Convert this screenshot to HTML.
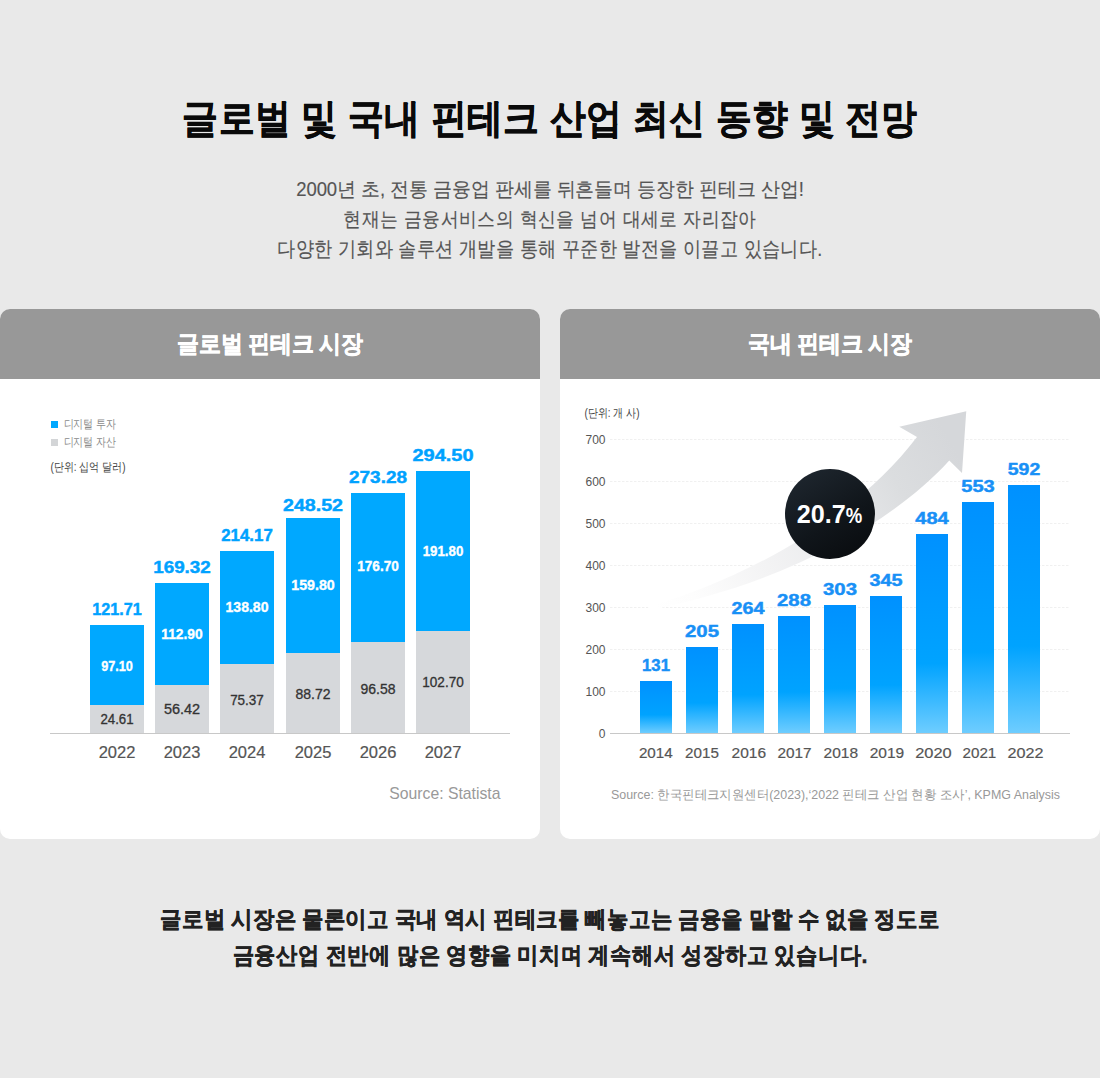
<!DOCTYPE html>
<html lang="ko">
<head>
<meta charset="utf-8">
<title>글로벌 및 국내 핀테크 산업 최신 동향 및 전망</title>
<style>
*{margin:0;padding:0;box-sizing:border-box}
html,body{width:1100px;height:1078px;overflow:hidden}
body{background:#e9e9e9;font-family:"Liberation Sans",sans-serif;position:relative;color:#000}
.ln{position:absolute;left:0;width:1100px;text-align:center;white-space:nowrap;display:block;transform-origin:50% 0;line-height:1}
h1.ln{font-weight:bold;color:#0a0a0a;-webkit-text-stroke:0.5px #0a0a0a}
p.ln{color:#555;-webkit-text-stroke:0.15px #555}
p.bt{color:#222;font-weight:bold;-webkit-text-stroke:0.4px #222}
.card{position:absolute;top:309px;width:540px;height:530px;background:#fff;border-radius:10px;overflow:hidden}
.card .hd{position:absolute;left:0;top:0;width:540px;height:70px;background:#989898}
.card h2{position:absolute;left:0;width:540px;text-align:center;white-space:nowrap;color:#fff;font-weight:bold;line-height:1;transform-origin:50% 0;-webkit-text-stroke:0.5px #fff}
#c1{left:0}
#c2{left:560px}
svg#charts{position:absolute;left:0;top:0;width:1100px;height:1078px}
svg text{font-family:"Liberation Sans",sans-serif}
#t0{top:97.8px;font-size:36.0px;letter-spacing:0.28px;transform:scaleY(1.1176)}
#s1{top:180.44px;font-size:18.5px;letter-spacing:-0.086px;transform:scaleY(1.0588)}
#s2{top:208.75px;font-size:18.0px;letter-spacing:0.4px;transform:scaleY(1.125)}
#s3{top:238.69px;font-size:18.0px;letter-spacing:0.4px;transform:scaleY(1.1562)}
#h1{top:23.5px;font-size:21.5px;letter-spacing:-0.222px;transform:scaleY(1.0952)}
#h2{top:23.5px;font-size:21.5px;letter-spacing:-0.25px;transform:scaleY(1.0952)}
#b1{top:909.4px;font-size:21.5px;letter-spacing:-0.283px;transform:scaleY(1.0762)}
#b2{top:945.0px;font-size:21.5px;letter-spacing:-0.206px;transform:scaleY(1.0857)}
</style>
</head>
<body>

<h1 class="ln" id="t0">글로벌 및 국내 핀테크 산업 최신 동향 및 전망</h1>

<p class="ln" id="s1">2000년 초, 전통 금융업 판세를 뒤흔들며 등장한 핀테크 산업!</p>
<p class="ln" id="s2">현재는 금융서비스의 혁신을 넘어 대세로 자리잡아</p>
<p class="ln" id="s3">다양한 기회와 솔루션 개발을 통해 꾸준한 발전을 이끌고 있습니다.</p>

<div class="card" id="c1"><div class="hd"></div><h2 id="h1">글로벌 핀테크 시장</h2></div>
<div class="card" id="c2"><div class="hd"></div><h2 id="h2">국내 핀테크 시장</h2></div>

<svg id="charts" viewBox="0 0 1100 1078">
<defs>
<linearGradient id="gb" x1="0" y1="0" x2="0" y2="1"><stop offset="0" stop-color="#0091ff"/><stop offset="0.65" stop-color="#00a3ff"/><stop offset="1" stop-color="#6ecdff"/></linearGradient>
<linearGradient id="ga" gradientUnits="userSpaceOnUse" x1="655" y1="610" x2="950" y2="440"><stop offset="0" stop-color="#ffffff"/><stop offset="0.12" stop-color="#fdfdfd"/><stop offset="0.35" stop-color="#f3f3f4"/><stop offset="0.6" stop-color="#e8e9eb"/><stop offset="0.8" stop-color="#dbdddf"/><stop offset="1" stop-color="#d5d7da"/></linearGradient>
<linearGradient id="gc" x1="0.15" y1="0.1" x2="0.7" y2="1"><stop offset="0" stop-color="#1d252d"/><stop offset="0.6" stop-color="#10151a"/><stop offset="1" stop-color="#0a0d10"/></linearGradient>
</defs>
<g id="left">
<rect x="51" y="421" width="7" height="7" fill="#00a8ff"/>
<rect x="51" y="439" width="7" height="7" fill="#d3d5d7"/>
<text x="63.5" y="428.2" font-size="11.5" fill="#8a8a8a" text-anchor="start" textLength="52.5" lengthAdjust="spacingAndGlyphs">디지털 투자</text>
<text x="63.5" y="445.6" font-size="11.5" fill="#8a8a8a" text-anchor="start" textLength="52.5" lengthAdjust="spacingAndGlyphs">디지털 자산</text>
<text x="50.5" y="471" font-size="12" fill="#444" text-anchor="start" textLength="75" lengthAdjust="spacingAndGlyphs">(단위: 십억 달러)</text>
<rect x="90" y="625" width="54" height="80" fill="#00a8ff"/>
<rect x="90" y="705" width="54" height="28" fill="#d6d8db"/>
<text x="117" y="615" font-size="17" fill="#00a2ff" text-anchor="middle" font-weight="bold" textLength="49.5" lengthAdjust="spacingAndGlyphs" stroke="#00a2ff" stroke-width="0.45">121.71</text>
<text x="117" y="671.25" font-size="14" fill="#fff" text-anchor="middle" font-weight="bold" textLength="31.75" lengthAdjust="spacingAndGlyphs" stroke="#fff" stroke-width="0.35">97.10</text>
<text x="117" y="724.25" font-size="14" fill="#333" text-anchor="middle" textLength="33.25" lengthAdjust="spacingAndGlyphs" stroke="#333" stroke-width="0.3">24.61</text>
<text x="117" y="758.3" font-size="16.5" fill="#555" text-anchor="middle" stroke="#555" stroke-width="0.2">2022</text>
<rect x="155" y="583" width="54" height="102" fill="#00a8ff"/>
<rect x="155" y="685" width="54" height="48" fill="#d6d8db"/>
<text x="182" y="573" font-size="17" fill="#00a2ff" text-anchor="middle" font-weight="bold" textLength="57.5" lengthAdjust="spacingAndGlyphs" stroke="#00a2ff" stroke-width="0.45">169.32</text>
<text x="182" y="639.25" font-size="14" fill="#fff" text-anchor="middle" font-weight="bold" textLength="41.5" lengthAdjust="spacingAndGlyphs" stroke="#fff" stroke-width="0.35">112.90</text>
<text x="182" y="714.25" font-size="14" fill="#333" text-anchor="middle" textLength="36.25" lengthAdjust="spacingAndGlyphs" stroke="#333" stroke-width="0.3">56.42</text>
<text x="182" y="758.3" font-size="16.5" fill="#555" text-anchor="middle" stroke="#555" stroke-width="0.2">2023</text>
<rect x="220" y="551" width="54" height="113" fill="#00a8ff"/>
<rect x="220" y="664" width="54" height="69" fill="#d6d8db"/>
<text x="247" y="541" font-size="17" fill="#00a2ff" text-anchor="middle" font-weight="bold" textLength="51.5" lengthAdjust="spacingAndGlyphs" stroke="#00a2ff" stroke-width="0.45">214.17</text>
<text x="247" y="612.25" font-size="14" fill="#fff" text-anchor="middle" font-weight="bold" textLength="43" lengthAdjust="spacingAndGlyphs" stroke="#fff" stroke-width="0.35">138.80</text>
<text x="247" y="705" font-size="14" fill="#333" text-anchor="middle" textLength="33.75" lengthAdjust="spacingAndGlyphs" stroke="#333" stroke-width="0.3">75.37</text>
<text x="247" y="758.3" font-size="16.5" fill="#555" text-anchor="middle" stroke="#555" stroke-width="0.2">2024</text>
<rect x="286" y="518" width="54" height="135" fill="#00a8ff"/>
<rect x="286" y="653" width="54" height="80" fill="#d6d8db"/>
<text x="313" y="511" font-size="17" fill="#00a2ff" text-anchor="middle" font-weight="bold" textLength="60" lengthAdjust="spacingAndGlyphs" stroke="#00a2ff" stroke-width="0.45">248.52</text>
<text x="313" y="590.25" font-size="14" fill="#fff" text-anchor="middle" font-weight="bold" textLength="43.5" lengthAdjust="spacingAndGlyphs" stroke="#fff" stroke-width="0.35">159.80</text>
<text x="313" y="698.5" font-size="14" fill="#333" text-anchor="middle" textLength="35" lengthAdjust="spacingAndGlyphs" stroke="#333" stroke-width="0.3">88.72</text>
<text x="313" y="758.3" font-size="16.5" fill="#555" text-anchor="middle" stroke="#555" stroke-width="0.2">2025</text>
<rect x="351" y="493" width="54" height="149" fill="#00a8ff"/>
<rect x="351" y="642" width="54" height="91" fill="#d6d8db"/>
<text x="378" y="483" font-size="17" fill="#00a2ff" text-anchor="middle" font-weight="bold" textLength="58" lengthAdjust="spacingAndGlyphs" stroke="#00a2ff" stroke-width="0.45">273.28</text>
<text x="378" y="571.25" font-size="14" fill="#fff" text-anchor="middle" font-weight="bold" textLength="41.5" lengthAdjust="spacingAndGlyphs" stroke="#fff" stroke-width="0.35">176.70</text>
<text x="378" y="693.5" font-size="14" fill="#333" text-anchor="middle" textLength="35" lengthAdjust="spacingAndGlyphs" stroke="#333" stroke-width="0.3">96.58</text>
<text x="378" y="758.3" font-size="16.5" fill="#555" text-anchor="middle" stroke="#555" stroke-width="0.2">2026</text>
<rect x="416" y="471" width="54" height="160" fill="#00a8ff"/>
<rect x="416" y="631" width="54" height="102" fill="#d6d8db"/>
<text x="443" y="461" font-size="17" fill="#00a2ff" text-anchor="middle" font-weight="bold" textLength="61" lengthAdjust="spacingAndGlyphs" stroke="#00a2ff" stroke-width="0.45">294.50</text>
<text x="443" y="556" font-size="14" fill="#fff" text-anchor="middle" font-weight="bold" textLength="40.5" lengthAdjust="spacingAndGlyphs" stroke="#fff" stroke-width="0.35">191.80</text>
<text x="443" y="687" font-size="14" fill="#333" text-anchor="middle" textLength="41.5" lengthAdjust="spacingAndGlyphs" stroke="#333" stroke-width="0.3">102.70</text>
<text x="443" y="758.3" font-size="16.5" fill="#555" text-anchor="middle" stroke="#555" stroke-width="0.2">2027</text>
<rect x="50" y="733" width="460" height="1" fill="#c8c8c8"/>
<text x="500.5" y="799" font-size="15.75" fill="#999" text-anchor="end">Source: Statista</text>
</g>
<g id="right">
<text x="584.5" y="417.3" font-size="12" fill="#444" text-anchor="start" textLength="55" lengthAdjust="spacingAndGlyphs">(단위: 개 사)</text>
<line x1="610" y1="439.5" x2="1070" y2="439.5" stroke="#f0f0f0" stroke-width="1" stroke-dasharray="2.5 1.5"/>
<text x="605.5" y="444.3" font-size="12" fill="#555" text-anchor="end">700</text>
<line x1="610" y1="481.5" x2="1070" y2="481.5" stroke="#f0f0f0" stroke-width="1" stroke-dasharray="2.5 1.5"/>
<text x="605.5" y="486.3" font-size="12" fill="#555" text-anchor="end">600</text>
<line x1="610" y1="523.5" x2="1070" y2="523.5" stroke="#f0f0f0" stroke-width="1" stroke-dasharray="2.5 1.5"/>
<text x="605.5" y="528.3" font-size="12" fill="#555" text-anchor="end">500</text>
<line x1="610" y1="565.5" x2="1070" y2="565.5" stroke="#f0f0f0" stroke-width="1" stroke-dasharray="2.5 1.5"/>
<text x="605.5" y="570.3" font-size="12" fill="#555" text-anchor="end">400</text>
<line x1="610" y1="607.5" x2="1070" y2="607.5" stroke="#f0f0f0" stroke-width="1" stroke-dasharray="2.5 1.5"/>
<text x="605.5" y="612.3" font-size="12" fill="#555" text-anchor="end">300</text>
<line x1="610" y1="649.5" x2="1070" y2="649.5" stroke="#f0f0f0" stroke-width="1" stroke-dasharray="2.5 1.5"/>
<text x="605.5" y="654.3" font-size="12" fill="#555" text-anchor="end">200</text>
<line x1="610" y1="691.5" x2="1070" y2="691.5" stroke="#f0f0f0" stroke-width="1" stroke-dasharray="2.5 1.5"/>
<text x="605.5" y="696.3" font-size="12" fill="#555" text-anchor="end">100</text>
<text x="605.5" y="738.3" font-size="12" fill="#555" text-anchor="end">0</text>
<path d="M648,607 C735,582 850,525 917,437 L899.25,426.75 L966.25,411.25 L962,473 L949.25,460.5 C890,526 780,584 650,610 Z" fill="url(#ga)"/>
<rect x="640" y="681" width="32" height="52" fill="url(#gb)"/>
<text x="656" y="671" font-size="17" fill="#1890f6" text-anchor="middle" font-weight="bold" textLength="28" lengthAdjust="spacingAndGlyphs" stroke="#1890f6" stroke-width="0.45">131</text>
<text x="655.8" y="757.5" font-size="15.5" fill="#555" text-anchor="middle" textLength="33.8" lengthAdjust="spacingAndGlyphs" stroke="#555" stroke-width="0.2">2014</text>
<rect x="686" y="647" width="32" height="86" fill="url(#gb)"/>
<text x="702" y="637" font-size="17" fill="#1890f6" text-anchor="middle" font-weight="bold" textLength="34" lengthAdjust="spacingAndGlyphs" stroke="#1890f6" stroke-width="0.45">205</text>
<text x="702" y="757.5" font-size="15.5" fill="#555" text-anchor="middle" textLength="33.8" lengthAdjust="spacingAndGlyphs" stroke="#555" stroke-width="0.2">2015</text>
<rect x="732" y="624" width="32" height="109" fill="url(#gb)"/>
<text x="748" y="614" font-size="17" fill="#1890f6" text-anchor="middle" font-weight="bold" textLength="33" lengthAdjust="spacingAndGlyphs" stroke="#1890f6" stroke-width="0.45">264</text>
<text x="748.8" y="757.5" font-size="15.5" fill="#555" text-anchor="middle" textLength="34.5" lengthAdjust="spacingAndGlyphs" stroke="#555" stroke-width="0.2">2016</text>
<rect x="778" y="616" width="32" height="117" fill="url(#gb)"/>
<text x="794" y="606" font-size="17" fill="#1890f6" text-anchor="middle" font-weight="bold" textLength="34" lengthAdjust="spacingAndGlyphs" stroke="#1890f6" stroke-width="0.45">288</text>
<text x="794.5" y="757.5" font-size="15.5" fill="#555" text-anchor="middle" textLength="34.2" lengthAdjust="spacingAndGlyphs" stroke="#555" stroke-width="0.2">2017</text>
<rect x="824" y="605" width="32" height="128" fill="url(#gb)"/>
<text x="840" y="595" font-size="17" fill="#1890f6" text-anchor="middle" font-weight="bold" textLength="34" lengthAdjust="spacingAndGlyphs" stroke="#1890f6" stroke-width="0.45">303</text>
<text x="840.8" y="757.5" font-size="15.5" fill="#555" text-anchor="middle" textLength="34.5" lengthAdjust="spacingAndGlyphs" stroke="#555" stroke-width="0.2">2018</text>
<rect x="870" y="596" width="32" height="137" fill="url(#gb)"/>
<text x="886" y="586" font-size="17" fill="#1890f6" text-anchor="middle" font-weight="bold" textLength="33" lengthAdjust="spacingAndGlyphs" stroke="#1890f6" stroke-width="0.45">345</text>
<text x="887" y="757.5" font-size="15.5" fill="#555" text-anchor="middle" textLength="34.5" lengthAdjust="spacingAndGlyphs" stroke="#555" stroke-width="0.2">2019</text>
<rect x="916" y="534" width="32" height="199" fill="url(#gb)"/>
<text x="932" y="524" font-size="17" fill="#1890f6" text-anchor="middle" font-weight="bold" textLength="33.5" lengthAdjust="spacingAndGlyphs" stroke="#1890f6" stroke-width="0.45">484</text>
<text x="933.4" y="757.5" font-size="15.5" fill="#555" text-anchor="middle" textLength="36.5" lengthAdjust="spacingAndGlyphs" stroke="#555" stroke-width="0.2">2020</text>
<rect x="962" y="502" width="32" height="231" fill="url(#gb)"/>
<text x="978" y="492" font-size="17" fill="#1890f6" text-anchor="middle" font-weight="bold" textLength="33.5" lengthAdjust="spacingAndGlyphs" stroke="#1890f6" stroke-width="0.45">553</text>
<text x="979.4" y="757.5" font-size="15.5" fill="#555" text-anchor="middle" textLength="33.8" lengthAdjust="spacingAndGlyphs" stroke="#555" stroke-width="0.2">2021</text>
<rect x="1008" y="485" width="32" height="248" fill="url(#gb)"/>
<text x="1024" y="475" font-size="17" fill="#1890f6" text-anchor="middle" font-weight="bold" textLength="32.5" lengthAdjust="spacingAndGlyphs" stroke="#1890f6" stroke-width="0.45">592</text>
<text x="1025.6" y="757.5" font-size="15.5" fill="#555" text-anchor="middle" textLength="36" lengthAdjust="spacingAndGlyphs" stroke="#555" stroke-width="0.2">2022</text>
<rect x="610" y="733" width="460" height="1" fill="#c8c8c8"/>
<circle cx="830" cy="514" r="45" fill="url(#gc)"/>
<text y="522.6" fill="#fff" font-weight="bold"><tspan x="796.7" font-size="25" textLength="49" lengthAdjust="spacingAndGlyphs">20.7</tspan><tspan x="845.8" font-size="21.5" textLength="16.5" lengthAdjust="spacingAndGlyphs">%</tspan></text>
<text x="611" y="798.7" font-size="13" fill="#999" text-anchor="start" textLength="449" lengthAdjust="spacingAndGlyphs">Source: 한국핀테크지원센터(2023),‘2022 핀테크 산업 현황 조사’, KPMG Analysis</text>
</g>
</svg>

<p class="ln bt" id="b1">글로벌 시장은 물론이고 국내 역시 핀테크를 빼놓고는 금융을 말할 수 없을 정도로</p>
<p class="ln bt" id="b2">금융산업 전반에 많은 영향을 미치며 계속해서 성장하고 있습니다.</p>

</body>
</html>
